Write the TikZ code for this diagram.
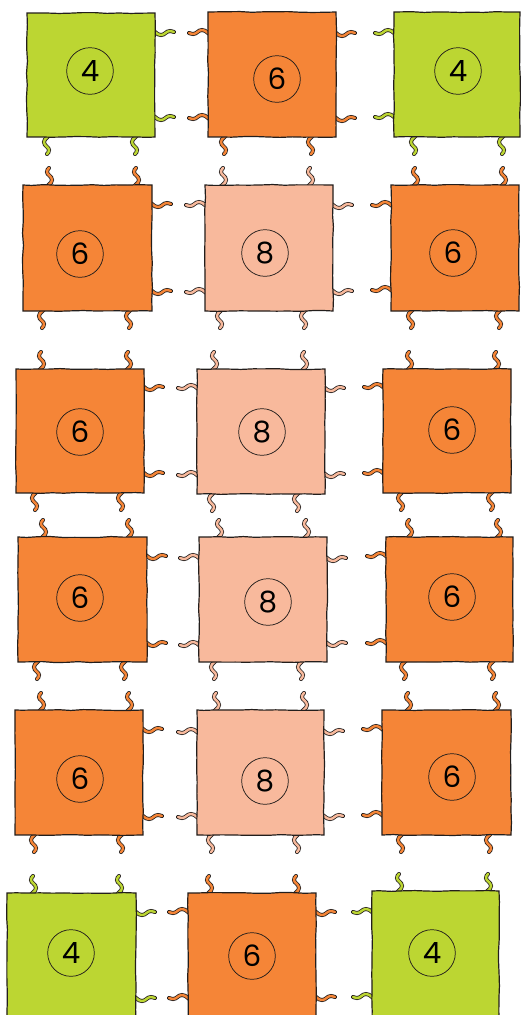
\documentclass[tikz,border=0pt]{standalone}
\usepackage{fontspec}
\newfontfamily\digitfont{Poppins}
\usetikzlibrary{decorations.pathmorphing}
\definecolor{cgreen}{RGB}{188,214,50}
\definecolor{corange}{RGB}{245,133,55}
\definecolor{cpink}{RGB}{248,185,156}
\definecolor{cline}{RGB}{35,30,28}
\pgfdeclarelayer{bg}
\pgfsetlayers{bg,main}
\tikzset{
  sqbox/.style={fill=#1, draw=cline, line width=0.9pt, inner sep=0pt, outer sep=0pt,
    decorate, decoration={random steps, segment length=9pt, amplitude=0.35pt}},
  numring/.style={circle, draw=cline, line width=0.55pt, minimum size=35pt, inner sep=0pt,
    font=\digitfont\fontsize{22}{22}\selectfont},
  pics/htail/.style={code={
    \draw[cline, line width=3.0pt, line cap=round] (-4,-2) .. controls (0,-2) and (1,3) .. (6,3) .. controls (10,3) and (11,-1) .. (15,-1) .. controls (17,-1) and (18,0) .. (19,0);
    \draw[#1, line width=1.8pt, line cap=round] (-4,-2) .. controls (0,-2) and (1,3) .. (6,3) .. controls (10,3) and (11,-1) .. (15,-1) .. controls (17,-1) and (18,0) .. (19,0);
  }},
  pics/vtail/.style={code={
    \draw[cline, line width=3.0pt, line cap=round] (-4,-2) .. controls (0,-2) and (1,4) .. (5,4) .. controls (9,4) and (10,-1) .. (13,-1) .. controls (15,-1) and (16,0) .. (17,1);
    \draw[#1, line width=1.8pt, line cap=round] (-4,-2) .. controls (0,-2) and (1,4) .. (5,4) .. controls (9,4) and (10,-1) .. (13,-1) .. controls (15,-1) and (16,0) .. (17,1);
  }},
}
% cell: name, left, top, right, bottom, colour, number, circle x, circle y
\newcommand\cell[9]{%
  \node[sqbox=#6, minimum width={(#4-#2)*0.75pt}, minimum height={(#5-#3)*0.75pt}] (#1) at ({(#2+#4)/2},{(#3+#5)/2}) {};
  \node[numring] (#1n) at (#8,#9) {#7};
}
% horizontal tails: x, y1, y2, colour, rotation
\newcommand\tH[5]{\begin{pgfonlayer}{bg}\pic[rotate=#5] at (#1,#2) {htail=#4};\pic[rotate=#5] at (#1,#3) {htail=#4};\end{pgfonlayer}}
% vertical tails: y, x1, x2, colour, rotation
\newcommand\tV[5]{\begin{pgfonlayer}{bg}\pic[rotate=#5] at (#2,#1) {vtail=#4};\pic[rotate=#5] at (#3,#1) {vtail=#4};\end{pgfonlayer}}
\begin{document}
\begin{tikzpicture}[x=0.75pt,y=-0.75pt]
\pgfmathsetseed{7}
\useasboundingbox (0,0) rectangle (521,1015);
\clip (0,0) rectangle (521,1015);
% row 1
\cell{aa}{27}{13}{155}{137}{cgreen}{4}{90}{71}
\tH{155}{32}{117}{cgreen}{0}\tV{137}{48}{136}{cgreen}{-90}
\cell{ab}{208}{12}{336}{137}{corange}{6}{277}{79}
\tH{208}{33}{118}{corange}{180}\tH{336}{33}{118}{corange}{0}\tV{137}{225}{312}{corange}{-90}
\cell{ac}{394}{12}{520}{137}{cgreen}{4}{458}{71}
\tH{394}{33}{117}{cgreen}{180}\tV{137}{415}{503}{cgreen}{-90}
% row 2
\cell{ba}{23}{185}{152}{311}{corange}{6}{80}{254}
\tV{185}{48}{135}{corange}{90}\tH{152}{204}{291}{corange}{0}\tV{311}{43}{130}{corange}{-90}
\cell{bb}{205}{185}{333}{311}{cpink}{8}{265}{253}
\tV{185}{222}{309}{cpink}{90}\tH{205}{205}{292}{cpink}{180}\tH{333}{205}{291}{cpink}{0}\tV{311}{221}{305}{cpink}{-90}
\cell{bc}{391}{185}{519}{311}{corange}{6}{453}{253}
\tV{185}{414}{502}{corange}{90}\tH{391}{205}{290}{corange}{180}\tV{311}{412}{500}{corange}{-90}
% row 3
\cell{ca}{16}{369}{144}{493}{corange}{6}{80}{432}
\tV{369}{40}{127}{corange}{90}\tH{144}{387}{473}{corange}{0}\tV{493}{36}{122}{corange}{-90}
\cell{cb}{197}{369}{325}{494}{cpink}{8}{262}{432}
\tV{369}{213}{303}{cpink}{90}\tH{197}{388}{475}{cpink}{180}\tH{325}{388}{474}{cpink}{0}\tV{494}{213}{298}{cpink}{-90}
\cell{cc}{383}{369}{511}{493}{corange}{6}{452}{430}
\tV{369}{408}{495}{corange}{90}\tH{383}{387}{473}{corange}{180}\tV{493}{402}{492}{corange}{-90}
% row 4
\cell{da}{18}{537}{147}{662}{corange}{6}{80}{598}
\tV{537}{42}{128}{corange}{90}\tH{147}{556}{643}{corange}{0}\tV{662}{38}{125}{corange}{-90}
\cell{db}{199}{537}{327}{662}{cpink}{8}{268}{602}
\tV{537}{218}{305}{cpink}{90}\tH{199}{558}{645}{cpink}{180}\tH{327}{558}{643}{cpink}{0}\tV{662}{215}{302}{cpink}{-90}
\cell{dc}{386}{537}{513}{662}{corange}{6}{452}{597}
\tV{537}{408}{497}{corange}{90}\tH{386}{556}{643}{corange}{180}\tV{662}{405}{493}{corange}{-90}
% row 5
\cell{ea}{15}{710}{143}{835}{corange}{6}{80}{779}
\tV{710}{40}{128}{corange}{90}\tH{143}{729}{816}{corange}{0}\tV{835}{35}{122}{corange}{-90}
\cell{eb}{197}{710}{324}{835}{cpink}{8}{265}{781}
\tV{710}{215}{303}{cpink}{90}\tH{197}{732}{817}{cpink}{180}\tH{324}{731}{816}{cpink}{0}\tV{835}{212}{298}{cpink}{-90}
\cell{ec}{382}{710}{511}{835}{corange}{6}{452}{777}
\tV{710}{407}{495}{corange}{90}\tH{382}{729}{815}{corange}{180}\tV{835}{402}{490}{corange}{-90}
% row 6
\cell{fa}{7}{893}{136}{1022}{cgreen}{4}{71}{953}
\tV{893}{32}{118}{cgreen}{90}\tH{136}{912}{998}{cgreen}{0}
\cell{fb}{188}{893}{316}{1022}{corange}{6}{252}{956}
\tV{893}{208}{295}{corange}{90}\tH{188}{912}{998}{corange}{180}\tH{316}{912}{997}{corange}{0}
\cell{fc}{372}{891}{499}{1022}{cgreen}{4}{432}{953}
\tV{891}{398}{487}{cgreen}{90}\tH{372}{912}{997}{cgreen}{180}
\end{tikzpicture}
\end{document}
